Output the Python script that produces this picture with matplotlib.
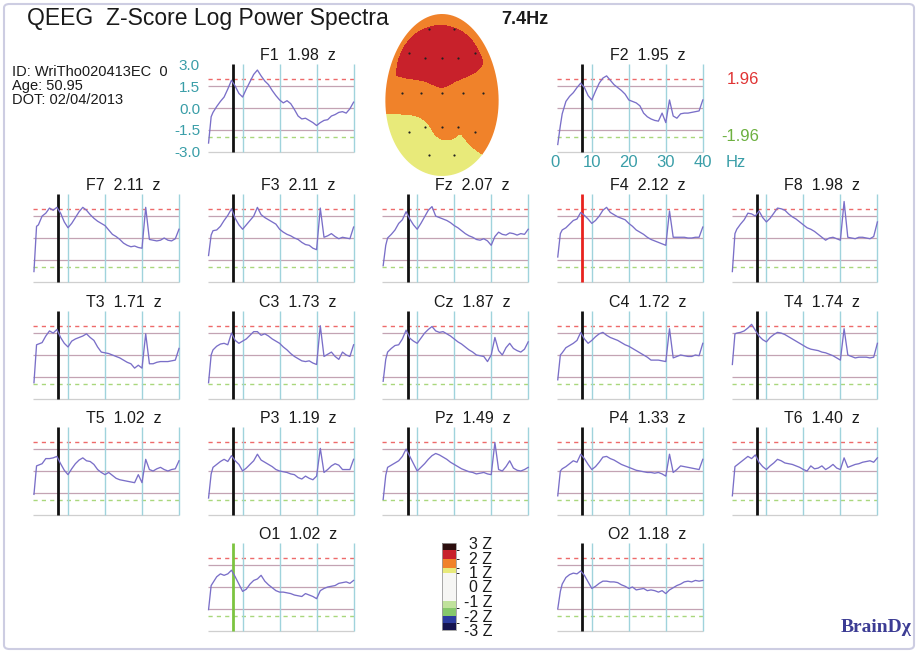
import numpy as np
import matplotlib
matplotlib.use("Agg")
import matplotlib.pyplot as plt
from matplotlib.colors import ListedColormap, BoundaryNorm
from matplotlib.cm import ScalarMappable
from matplotlib.patches import FancyBboxPatch, PathPatch
from matplotlib.path import Path

plt.rcParams['font.family'] = ['Liberation Sans', 'DejaVu Sans']

# ---------------------------------------------------------------- data
freqs = [0.8, 1.5] + list(range(2, 41))          # Hz
peak_hz = 7.4

z_F1 = [-2.4, -0.6, -0.3, 0.1, 0.45, 0.75, 1.3, 1.9, 1.5, 1.0, 0.75, 1.3, 1.8, 2.3, 2.6, 2.2, 1.85, 1.6, 1.2, 0.85, 0.55,
        0.35, 0.5, 0.3, -0.1, -0.55, -0.75, -0.7, -0.85, -1.0, -1.2, -1.0, -0.85, -0.8, -0.55, -0.45, -0.3, -0.25, -0.35, -0.05, 0.4]
z_F2 = [-2.5, -1.2, -0.4, 0.45, 0.8, 1.05, 1.4, 1.7, 1.4, 0.85, 0.55, 1.15, 1.7, 2.05, 2.2, 1.9, 1.6, 1.4, 1.2, 0.95, 0.55,
        0.45, 0.35, 0.15, -0.35, -0.6, -0.75, -0.85, -0.9, -0.35, -1.0, 0.55, -0.55, -0.7, -0.4, -0.35, -0.35, -0.3, -0.25, -0.2, 0.55]
z_F7 = [-2.3, 0.8, 0.9, 1.5, 1.7, 2.05, 1.9, 2.1, 1.7, 1.1, 0.7, 1.0, 1.4, 1.8, 2.1, 1.9, 1.6, 1.35, 1.15, 1.0, 0.85,
        0.55, 0.25, 0.1, -0.1, -0.35, -0.5, -0.6, -0.55, -0.65, -0.7, 2.1, -0.1, -0.15, -0.2, -0.15, 0.0, -0.15, -0.2, -0.05, 0.6]
z_F3 = [-1.2, 0.2, 0.5, 0.55, 0.8, 1.2, 1.55, 2.0, 1.35, 0.9, 0.6, 0.9, 1.2, 1.5, 2.1, 1.6, 1.4, 1.25, 1.1, 0.95, 0.6,
        0.4, 0.25, 0.15, 0.0, -0.1, -0.3, -0.45, -0.5, -0.7, -0.8, 2.05, 0.05, 0.15, 0.3, 0.1, -0.05, 0.05, 0.0, -0.05, 0.75]
z_Fz = [-1.9, -0.5, 0.0, 0.25, 0.55, 1.0, 1.25, 1.8, 1.3, 0.9, 0.6, 1.0, 1.45, 1.9, 2.15, 1.5, 1.4, 1.3, 1.2, 1.05, 0.85,
        0.7, 0.5, 0.3, 0.15, 0.05, -0.1, -0.15, -0.05, -0.2, -0.5, 0.1, 0.4, 0.25, 0.2, 0.35, 0.3, 0.2, 0.3, 0.25, 0.6]
z_F4 = [-1.3, 0.3, 0.55, 0.7, 0.95, 1.2, 1.3, 1.75, 1.55, 1.3, 1.0, 1.2, 1.5, 1.9, 2.1, 1.75, 1.6, 1.45, 1.35, 1.25, 1.0,
        0.8, 0.55, 0.4, 0.25, 0.05, -0.1, -0.2, -0.3, -0.4, -0.5, 1.85, 0.05, 0.05, 0.05, 0.05, 0.0, 0.0, 0.05, 0.05, 0.75]
z_F8 = [-2.3, 0.3, 0.6, 0.95, 1.25, 1.7, 1.65, 1.5, 1.85, 1.4, 1.1, 1.35, 1.7, 2.05, 2.0, 1.9, 1.65, 1.45, 1.3, 1.1, 0.9,
        0.7, 0.6, 0.45, 0.25, 0.05, -0.15, 0.0, 0.05, -0.05, -0.15, 2.5, 0.05, 0.0, -0.05, 0.05, 0.05, 0.0, -0.05, 0.1, 1.1]
z_T3 = [-1.9, 0.7, 0.75, 0.85, 1.3, 1.65, 1.5, 1.75, 1.2, 0.8, 0.55, 0.95, 1.1, 1.2, 1.3, 1.45, 1.2, 1.0, 0.55, 0.2, 0.15,
        0.1, 0.0, -0.1, -0.2, -0.35, -0.5, -0.6, -0.9, -0.7, -0.9, 1.45, -0.6, -0.6, -0.5, -0.45, -0.45, -0.45, -0.4, -0.35, 0.45]
z_C3 = [-1.9, 0.0, 0.35, 0.6, 0.75, 0.8, 0.7, 1.5, 1.0, 0.8, 0.95, 1.1, 1.35, 1.6, 1.6, 1.35, 1.45, 1.3, 1.1, 0.95, 0.8,
        0.55, 0.35, 0.1, -0.1, -0.25, -0.4, -0.45, -0.4, -0.55, -0.65, 2.0, -0.1, 0.05, 0.2, -0.1, -0.3, 0.2, 0.0, -0.1, 0.7]
z_Cz = [-1.8, -0.3, 0.2, 0.45, 0.65, 0.7, 1.1, 1.7, 1.15, 0.95, 0.8, 1.15, 1.5, 1.75, 1.95, 1.65, 1.55, 1.6, 1.45, 1.3, 1.1,
        0.9, 0.75, 0.55, 0.35, 0.2, 0.0, -0.05, -0.1, -0.45, 0.0, 1.2, 0.3, 0.0, 0.5, 0.8, 0.45, 0.3, 0.2, 0.4, 0.9]
z_C4 = [-1.7, 0.0, 0.15, 0.5, 0.65, 0.8, 1.0, 1.55, 1.1, 0.8, 1.0, 1.25, 1.45, 1.55, 1.35, 1.2, 1.1, 1.0, 0.85, 0.7, 0.6,
        0.45, 0.3, 0.15, 0.0, -0.15, -0.35, -0.35, -0.35, -0.4, -0.45, 1.8, -0.2, -0.1, 0.0, -0.05, -0.1, -0.1, 0.0, -0.05, 0.8]
z_T4 = [-0.65, 1.45, 1.5, 1.55, 1.65, 1.85, 2.1, 1.7, 1.3, 1.05, 0.9, 1.2, 1.4, 1.55, 1.5, 1.4, 1.25, 1.1, 0.95, 0.8, 0.65,
        0.5, 0.4, 0.35, 0.3, 0.2, 0.15, 0.05, -0.05, -0.2, -0.35, 1.8, 0.0, -0.1, -0.2, -0.15, -0.15, -0.15, -0.2, -0.15, 0.8]
z_T5 = [-1.6, 0.35, 0.4, 0.5, 0.85, 0.85, 0.9, 1.0, 0.5, 0.05, -0.25, 0.15, 0.5, 0.75, 0.9, 0.7, 0.65, 0.45, 0.1, -0.1, -0.25,
        -0.1, -0.3, -0.5, -0.6, -0.65, -0.7, -0.75, -0.8, -0.25, -0.8, 0.8, 0.1, 0.0, 0.15, 0.25, 0.1, 0.0, 0.1, 0.15, 0.7]
z_P3 = [-1.85, -0.2, 0.25, 0.45, 0.65, 0.8, 0.65, 1.05, 0.7, 0.45, 0.0, 0.2, 0.45, 0.7, 1.15, 0.75, 0.6, 0.45, 0.3, 0.1, 0.0,
        -0.05, -0.1, -0.2, -0.25, -0.45, -0.55, -0.35, -0.5, -0.6, -0.35, 1.55, -0.1, 0.1, 0.35, 0.5, 0.4, 0.1, 0.1, 0.1, 0.8]
z_Pz = [-1.95, -0.3, 0.25, 0.4, 0.55, 0.7, 1.0, 1.5, 1.0, 0.5, 0.0, 0.25, 0.5, 0.8, 1.05, 1.2, 1.1, 0.95, 0.8, 0.6, 0.45,
        0.3, 0.15, 0.05, -0.05, -0.1, -0.2, -0.15, -0.1, -0.2, -0.25, 1.95, 0.1, 0.0, 0.3, 0.7, 0.2, 0.05, 0.0, 0.1, 0.25]
z_P4 = [-1.7, 0.0, 0.15, 0.3, 0.5, 0.7, 0.6, 1.15, 0.85, 0.45, 0.1, 0.3, 0.6, 0.95, 1.0, 0.85, 0.75, 0.6, 0.45, 0.35, 0.25,
        0.15, 0.05, 0.0, -0.05, -0.1, -0.1, -0.15, -0.1, -0.2, -0.35, 1.15, -0.1, 0.1, 0.35, 0.3, 0.25, 0.2, 0.15, 0.1, 0.8]
z_T6 = [-1.7, 0.3, 0.4, 0.6, 0.8, 1.0, 0.85, 1.1, 0.6, 0.3, 0.1, 0.35, 0.55, 0.8, 0.7, 0.55, 0.5, 0.45, 0.35, 0.25, 0.1,
        0.0, 0.35, 0.15, 0.2, 0.35, 0.1, 0.25, 0.45, 0.2, 0.1, 0.9, 0.25, 0.35, 0.45, 0.5, 0.6, 0.65, 0.7, 0.6, 0.9]
z_O1 = [-1.55, 0.1, 0.3, 0.7, 0.9, 0.8, 0.9, 1.15, 0.7, 0.2, -0.3, -0.15, 0.2, 0.45, 0.55, 0.8, 0.4, 0.15, -0.05, -0.25, -0.35,
        -0.35, -0.4, -0.45, -0.55, -0.6, -0.65, -0.45, -0.55, -0.65, -0.8, -0.25, -0.1, 0.0, 0.05, 0.1, 0.25, 0.3, 0.35, 0.25, 0.45]
z_O2 = [-1.5, -0.3, 0.2, 0.65, 0.85, 0.95, 0.9, 1.1, 0.8, 0.35, -0.1, 0.05, 0.25, 0.4, 0.4, 0.35, 0.35, 0.3, 0.15, 0.05, -0.1,
        0.0, -0.2, -0.15, -0.1, -0.25, -0.2, -0.25, -0.35, -0.25, -0.45, -0.2, -0.05, 0.1, 0.2, 0.35, 0.4, 0.35, 0.45, 0.4, 0.45]

channels = ['F1', 'F2', 'F7', 'F3', 'Fz', 'F4', 'F8', 'T3', 'C3', 'Cz', 'C4', 'T4',
            'T5', 'P3', 'Pz', 'P4', 'T6', 'O1', 'O2']
peak_z = [1.98, 1.95, 2.11, 2.11, 2.07, 2.12, 1.98, 1.71, 1.73, 1.87, 1.72, 1.74,
          1.02, 1.19, 1.49, 1.33, 1.40, 1.02, 1.18]
spectra = {'F1': z_F1, 'F2': z_F2, 'F7': z_F7, 'F3': z_F3, 'Fz': z_Fz, 'F4': z_F4, 'F8': z_F8,
           'T3': z_T3, 'C3': z_C3, 'Cz': z_Cz, 'C4': z_C4, 'T4': z_T4,
           'T5': z_T5, 'P3': z_P3, 'Pz': z_Pz, 'P4': z_P4, 'T6': z_T6, 'O1': z_O1, 'O2': z_O2}

# colour scale of the Z map (bin edges and colours)
cbar_bounds = [-3, -2.5, -2, -1.5, -1, 0.9, 1.3, 1.93, 2.5, 3]
cbar_colors = ['#14134f', '#2b3b9f', '#86c86c', '#c0e29c', '#f6f6f4',
               '#e8ea7a', '#f0822a', '#c8212b', '#2c0e0e']
cbar_ticks = [3, 2, 1, 0, -1, -2, -3]
rim_z = 1.3        # level the map relaxes towards at the scalp edge

# ---------------------------------------------------------------- layout
FW, FH = 918, 652
fig = plt.figure(figsize=(FW / 100, FH / 100), dpi=100)
fig.patch.set_facecolor('white')


def fx(x):
    return x / FW


def fy(y):
    return 1 - y / FH


# grid slot (column, row) of each channel panel
slots = {'F1': (1, 0), 'F2': (3, 0),
         'F7': (0, 1), 'F3': (1, 1), 'Fz': (2, 1), 'F4': (3, 1), 'F8': (4, 1),
         'T3': (0, 2), 'C3': (1, 2), 'Cz': (2, 2), 'C4': (3, 2), 'T4': (4, 2),
         'T5': (0, 3), 'P3': (1, 3), 'Pz': (2, 3), 'P4': (3, 3), 'T6': (4, 3),
         'O1': (1, 4), 'O2': (3, 4)}
col_x0 = [31 + 174.6 * c for c in range(5)]
row_zero = [108, 238, 355, 471, 587]
UNIT = 14.6        # pixels per z unit
PW = 148.0         # pixels for 0-40 Hz
YL = 3.25

cursor_colors = {'F4': '#e8221e', 'O1': '#7cc440'}

TEAL = '#3a9ea8'
MAUVE = '#c3a3b3'
CYAN = '#9fd3dc'
CURVE = '#7a6fc8'
RED_D = '#ee6a6a'
GREEN_D = '#a9d77c'

for ch, zval in zip(channels, peak_z):
    col, row = slots[ch]
    x0 = col_x0[col]
    yz = row_zero[row]
    top = yz - YL * UNIT
    ax = fig.add_axes([fx(x0), fy(top + 2 * YL * UNIT), PW / FW, 2 * YL * UNIT / FH])
    ax.set_xlim(0, 40)
    ax.set_ylim(-YL, YL)
    ax.set_frame_on(False)
    ax.set_xticks([])
    ax.set_yticks([])

    ax.hlines([1.5, 0, -1.5], 0.6, 40, color=MAUVE, lw=0.9, clip_on=False)
    ax.hlines([-3], 0.6, 40, color='#cfcfcf', lw=0.9, clip_on=False)
    ax.hlines([1.96], 0.6, 40, color=RED_D, lw=1.0, linestyles=(0, (3, 3)), clip_on=False)
    ax.hlines([-1.96], 0.6, 40, color=GREEN_D, lw=1.0, linestyles=(0, (3, 3)), clip_on=False)
    ax.vlines([10, 20, 30, 40], -3, 3, color=CYAN, lw=1.0, clip_on=False)
    ax.vlines([peak_hz], -3, 3, color=cursor_colors.get(ch, '#111111'), lw=2.0, clip_on=False, zorder=4)
    ax.plot(freqs, spectra[ch], color=CURVE, lw=0.95, zorder=5, clip_on=False)

    ax.text(25, 3.6, f"{ch}  {zval:.2f}  z", ha='center', va='center', fontsize=11.5,
            color='#1a1a1a', clip_on=False)

    if ch == 'F1':
        ax.set_yticks([3, 1.5, 0, -1.5, -3], labels=['3.0', '1.5', '0.0', '-1.5', '-3.0'])
        ax.tick_params(axis='y', length=0, pad=4, labelcolor=TEAL, labelsize=11)
    if ch == 'F2':
        ax.set_xticks([0, 10, 20, 30, 40], labels=['0', '10', '20', '30', '40'])
        ax.tick_params(axis='x', length=0, pad=0, labelcolor=TEAL, labelsize=12)
        ax.text(46.3, -YL, 'Hz', ha='left', va='top', fontsize=12, color=TEAL, clip_on=False)
        ax.text(55.3, 1.96, '1.96', ha='right', va='center', fontsize=12, color='#e03434', clip_on=False)
        ax.text(55.3, -1.96, '-1.96', ha='right', va='center', fontsize=12, color='#6db040', clip_on=False)

# ---------------------------------------------------------------- header texts
fig.text(fx(27), fy(19), 'QEEG  Z-Score Log Power Spectra', fontsize=16.5, ha='left', va='center',
         color='#1a1a1a')
fig.text(fx(501), fy(19), f'{peak_hz}Hz', fontsize=13, fontweight='bold', ha='left', va='center',
         color='#1a1a1a')
for yy, line in zip([72, 86, 100], ['ID: WriTho020413EC  0', 'Age: 50.95', 'DOT: 02/04/2013']):
    fig.text(fx(12), fy(yy), line, fontsize=10.5, ha='left', va='center', color='#1a1a1a')

fig.text(fx(876), fy(627), 'BrainD\u03c7', fontsize=14, fontweight='bold', ha='center', va='center',
         color='#3c3c94', family=['Liberation Serif', 'DejaVu Serif'])

# ---------------------------------------------------------------- scalp map
electrode_xy = {'F1': (429, 29), 'F2': (454, 29),
                'F7': (409, 53), 'F3': (425, 58), 'Fz': (442, 58), 'F4': (458, 58), 'F8': (475, 53),
                'T3': (402, 93), 'C3': (421, 93), 'Cz': (442, 93), 'C4': (463, 93), 'T4': (483, 93),
                'T5': (409, 132), 'P3': (425, 127), 'Pz': (442, 127), 'P4': (458, 127), 'T6': (475, 132),
                'O1': (429, 155), 'O2': (454, 155)}

hx0, hx1, hy0, hy1 = 378, 508, 6, 182
hax = fig.add_axes([fx(hx0), fy(hy1), (hx1 - hx0) / FW, (hy1 - hy0) / FH])
hax.set_xlim(hx0, hx1)
hax.set_ylim(hy1, hy0)
hax.axis('off')

ex = np.array([electrode_xy[c][0] for c in channels], float)
ey = np.array([electrode_xy[c][1] for c in channels], float)
ev = np.array(peak_z, float)


def tps_surface(px, py, vals, gx, gy, scale=50.0):
    pts = np.column_stack([px, py]) / scale
    n = len(vals)
    d = np.sqrt(((pts[:, None, :] - pts[None, :, :]) ** 2).sum(-1))
    with np.errstate(divide='ignore', invalid='ignore'):
        K = np.where(d > 0, d ** 2 * np.log(d), 0.0)
    P = np.column_stack([np.ones(n), pts])
    A = np.zeros((n + 3, n + 3))
    A[:n, :n] = K
    A[:n, n:] = P
    A[n:, :n] = P.T
    coef = np.linalg.solve(A, np.concatenate([vals, np.zeros(3)]))
    w, a = coef[:n], coef[n:]
    g = np.column_stack([gx.ravel(), gy.ravel()]) / scale
    dg = np.sqrt(((g[:, None, :] - pts[None, :, :]) ** 2).sum(-1))
    with np.errstate(divide='ignore', invalid='ignore'):
        Kg = np.where(dg > 0, dg ** 2 * np.log(dg), 0.0)
    out = Kg @ w + a[0] + g @ a[1:]
    return out.reshape(gx.shape)


# egg-shaped head outline, slightly narrower at the front
hcx, hcy, ha_, hb_, egg_k = 442.0, 95.0, 56.5, 81.0, 0.07
tt = np.linspace(0, 2 * np.pi, 240)
egg_x = hcx + ha_ * np.sin(tt) * (1 - egg_k * np.cos(tt))
egg_y = hcy - hb_ * np.cos(tt)

gx, gy = np.meshgrid(np.linspace(hx0, hx1, 170), np.linspace(hy0, hy1, 230))
surf = np.clip(tps_surface(ex, ey, ev, gx, gy), ev.min(), ev.max())

# relax the surface towards the rim level close to the scalp edge
dy = (gy - hcy) / hb_
rr = np.sqrt(((gx - hcx) / (ha_ * (1 + egg_k * dy))) ** 2 + dy ** 2)
wr = 0.5 * np.clip((rr - 0.85) / 0.15, 0, 1)
surf = surf * (1 - wr) + rim_z * wr

cmap = ListedColormap(cbar_colors)
norm = BoundaryNorm(cbar_bounds, cmap.N)

head = PathPatch(Path(np.column_stack([egg_x, egg_y]), closed=False), facecolor='none', edgecolor='none')
hax.add_patch(head)
cs = hax.contourf(gx, gy, surf, levels=cbar_bounds, cmap=cmap, norm=norm)
cs.set_clip_path(head)
hax.scatter(ex, ey, s=2.5, color='#222222', zorder=5, linewidths=0)

# ---------------------------------------------------------------- colour bar
cax = fig.add_axes([fx(442), fy(630), 14 / FW, 87 / FH])
sm = ScalarMappable(norm=norm, cmap=cmap)
cb = fig.colorbar(sm, cax=cax, ticks=cbar_ticks, spacing='proportional')
cb.outline.set_edgecolor('#9a9a9a')
cb.outline.set_linewidth(0.6)
cax.set_yticklabels([f'{t} Z' for t in cbar_ticks])
cax.tick_params(length=0, pad=26, labelsize=11.5, labelcolor='#1a1a1a')
for lbl in cax.get_yticklabels():
    lbl.set_horizontalalignment('right')

# ---------------------------------------------------------------- frame
frame = FancyBboxPatch((fx(4), fy(649)), fx(910), 645 / FH, boxstyle='round,pad=0,rounding_size=0.006',
                       transform=fig.transFigure, facecolor='none', edgecolor='#cdcde2', lw=1.5)
fig.patches.append(frame)

fig.savefig('out.png', dpi=100, facecolor='white')
